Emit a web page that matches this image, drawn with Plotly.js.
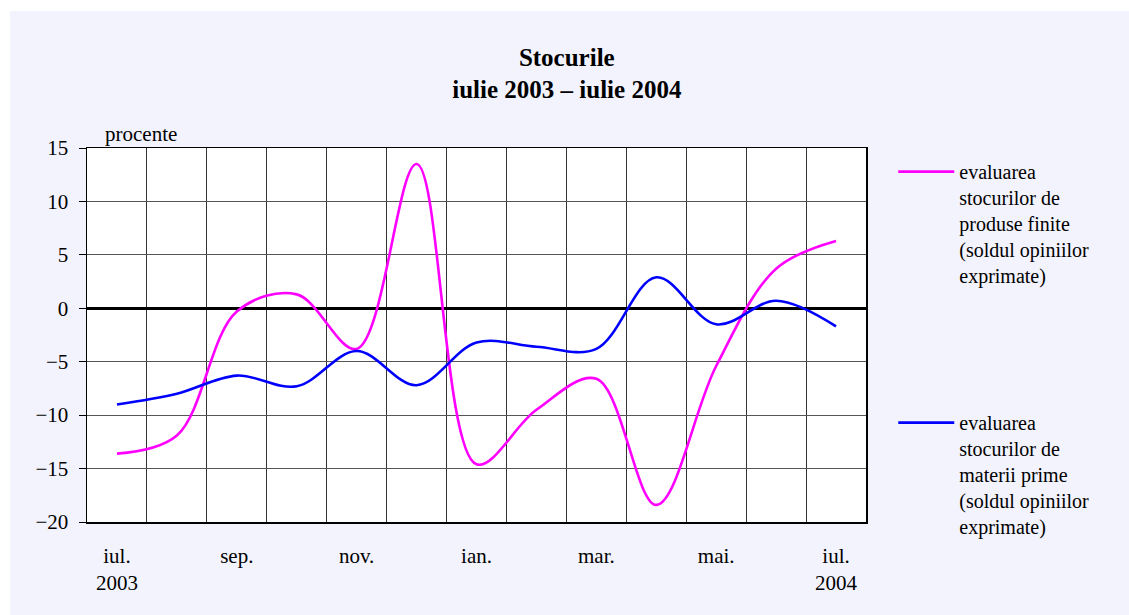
<!DOCTYPE html>
<html>
<head>
<meta charset="utf-8">
<script src="https://cdn.plot.ly/plotly-3.0.1.min.js"></script>
<style>
  html, body { margin: 0; padding: 0; background: #ffffff; }
  #chart { position: absolute; left: 10px; top: 11px; width: 1119px; height: 604px; }
</style>
</head>
<body>
<div id="chart"></div>
<script>
// Months (category axis): iulie 2003 ... iulie 2004
const months = ['iul. 2003','aug. 2003','sep. 2003','oct. 2003','nov. 2003','dec. 2003',
                'ian. 2004','feb. 2004','mar. 2004','apr. 2004','mai. 2004','iun. 2004','iul. 2004'];
// Tick labels (only every second month is labelled)
const monthLabels = ['iul.<br>2003','','sep.','','nov.','','ian.','','mar.','','mai.','','iul.<br>2004'];

// evaluarea stocurilor de produse finite (soldul opiniilor exprimate), %
const produseFinite = [-13.6, -11.9, -0.3, 1.3, -3.8, 13.5, -14.6, -9.5, -6.6, -18.4, -5.4, 3.7, 6.3];
// evaluarea stocurilor de materii prime (soldul opiniilor exprimate), %
const materiiPrime = [-9.0, -8.0, -6.3, -7.3, -4.0, -7.2, -3.2, -3.6, -3.8, 2.9, -1.5, 0.7, -1.7];

const seriesNames = [
  'evaluarea<br>stocurilor de<br>produse finite<br>(soldul opiniilor<br>exprimate)',
  'evaluarea<br>stocurilor de<br>materii prime<br>(soldul opiniilor<br>exprimate)'
];

const FONT = 'Liberation Serif, Times New Roman, serif';

const traces = [
  {
    x: months, y: produseFinite, type: 'scatter', mode: 'lines',
    name: seriesNames[0], legendgroup: 'a',
    line: {color: '#ff00ff', width: 2.6, shape: 'spline', smoothing: 1}
  },
  {
    x: months, y: materiiPrime, type: 'scatter', mode: 'lines',
    name: seriesNames[1], legendgroup: 'b',
    line: {color: '#0000ff', width: 2.6, shape: 'spline', smoothing: 1}
  }
];

const layout = {
  width: 1119, height: 604,
  paper_bgcolor: '#f3f3fd',
  plot_bgcolor: '#ffffff',
  font: {family: FONT, size: 21, color: '#000000'},
  margin: {l: 77, r: 263, t: 137, b: 93},
  title: {
    text: '<b>Stocurile</b><br><b>iulie 2003 – iulie 2004</b>',
    font: {family: FONT, size: 25, color: '#000000'},
    x: 0.4976, xanchor: 'center', y: 0.909, yanchor: 'top'
  },
  xaxis: {
    type: 'category',
    categoryorder: 'array', categoryarray: months,
    range: [-0.5, 12.5],
    tickmode: 'array', tickvals: months, ticktext: monthLabels,
    tickson: 'boundaries',
    ticks: '', showgrid: true, gridcolor: '#333333', gridwidth: 1,
    showline: true, linecolor: '#000000', linewidth: 1.5, mirror: true,
    ticklabelstandoff: 14,
    tickfont: {family: FONT, size: 21},
    zeroline: false, fixedrange: true
  },
  yaxis: {
    range: [-20, 15], dtick: 5, tick0: 0,
    ticks: 'outside', ticklen: 7, tickcolor: '#000000', tickwidth: 1,
    showgrid: true, gridcolor: '#555555', gridwidth: 1,
    showline: true, linecolor: '#000000', linewidth: 1.5, mirror: true,
    zeroline: true, zerolinecolor: '#000000', zerolinewidth: 2.5,
    tickfont: {family: FONT, size: 21},
    ticklabelstandoff: 6,
    fixedrange: true
  },
  showlegend: true,
  legend: {
    x: 1.035, xanchor: 'left', y: 0.989, yanchor: 'top',
    bgcolor: 'rgba(0,0,0,0)', borderwidth: 0,
    font: {family: FONT, size: 20, color: '#000000'},
    tracegroupgap: 118, valign: 'top', itemwidth: 56,
    maxheight: 600
  },
  annotations: [{
    text: 'procente', xref: 'paper', yref: 'paper',
    x: 0.02, y: 1.0, xanchor: 'left', yanchor: 'bottom',
    showarrow: false, font: {family: FONT, size: 21, color: '#000000'}
  }]
};

Plotly.newPlot('chart', traces, layout, {displayModeBar: false, staticPlot: true});
</script>
</body>
</html>
